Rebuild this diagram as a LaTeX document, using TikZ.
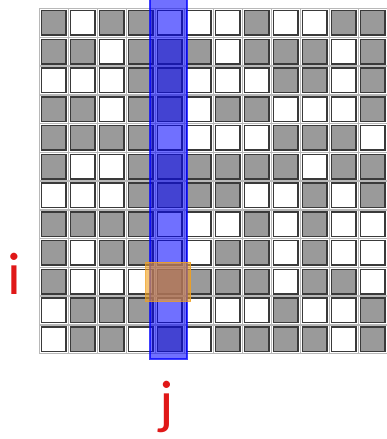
\documentclass[tikz,border=0pt]{standalone}
\usepackage{fontspec}
\usepackage{tikz}
\usepackage{xcolor}
\usetikzlibrary{positioning}
\newfontfamily\lblfont{Carlito}
\definecolor{cell0}{HTML}{FFFFFF}
\definecolor{cell1}{HTML}{9A9A9A}
\definecolor{edge}{HTML}{3A3A3A}
\definecolor{gap}{HTML}{B8B8B8}
\definecolor{colblue}{HTML}{0000FF}
\definecolor{pick}{HTML}{F0A020}
\definecolor{lblred}{HTML}{E01818}
\tikzset{
  bitcell/.style={draw=edge, line width=1.5pt, minimum size=24.5pt, inner sep=0pt},
  gapline/.style={draw=gap, line width=1.3pt},
  colbar/.style={fill=colblue, fill opacity=0.56, draw=colblue, draw opacity=0.75, line width=2pt},
  pickbox/.style={fill=pick, fill opacity=0.62, draw=pick, draw opacity=0.8, line width=1pt,
                  minimum width=45pt, minimum height=39pt, inner sep=0pt},
  idxlabel/.style={text=lblred, font=\lblfont\fontsize{60}{60}\selectfont, inner sep=0pt}
}
\begin{document}
\begin{tikzpicture}[x=29pt,y=28.75pt]
        \useasboundingbox (-1.862,0.8) rectangle (11.483,-14.47);
        % light lines between the cells
        \foreach \k in {0,...,12} {
          \draw[gapline] (\k-0.5,0.5) -- (\k-0.5,-11.5);
          \draw[gapline] (-0.5,0.5-\k) -- (11.5,0.5-\k);
        }
        % the matrix, one row per entry (1 = grey, 0 = white)
        \foreach \row [count=\j from 0] in {
            {1,0,1,1,0,0,0,1,0,0,1,1},
            {1,1,0,1,1,1,0,1,1,1,0,1},
            {0,0,0,1,1,0,0,0,1,1,0,1},
            {1,1,0,1,1,0,1,1,0,0,0,1},
            {1,1,1,1,0,0,0,0,1,1,1,0},
            {1,0,0,1,1,1,1,1,1,0,1,1},
            {0,0,0,1,1,1,1,0,0,1,0,1},
            {1,1,1,1,0,0,0,1,0,1,0,0},
            {1,0,1,1,0,0,1,1,0,1,0,0},
            {1,0,0,0,1,1,1,1,0,1,1,0},
            {0,1,1,1,0,0,0,0,1,0,0,1},
            {0,1,1,0,1,0,1,1,1,1,0,1}} {
          \foreach \v [count=\i from 0] in \row {
            \node[bitcell,fill=cell\v] (c-\i-\j) at (\i,-\j) {};
          }
        }
        % column j and entry (i,j)
        \draw[colbar] (3.31,0.85) rectangle (4.59,-11.69);
        \node[pickbox] (sel) at ([xshift=-1.5pt]c-4-9) {};
        \node[idxlabel] (ilbl) at (-1.36,-8.73) {i};
        \node[idxlabel] (jlbl) at (3.88,-13.37) {j};
      \end{tikzpicture}
\end{document}
